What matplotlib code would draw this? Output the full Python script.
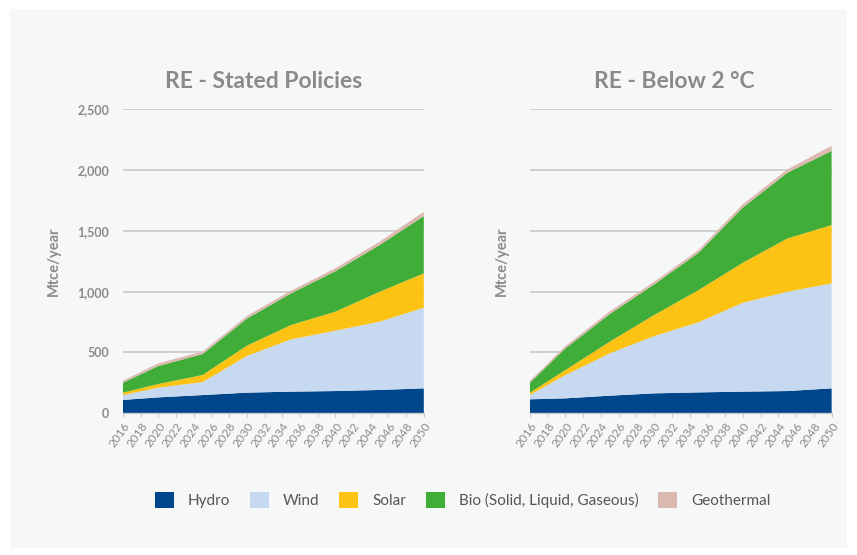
import numpy as np
import matplotlib
matplotlib.use("Agg")
import matplotlib.pyplot as plt
from matplotlib.patches import Patch, Rectangle

# data (Mtce/year)
years = [2016, 2020, 2025, 2030, 2035, 2040, 2045, 2050]
sources = ["Hydro", "Wind", "Solar", "Bio (Solid, Liquid, Gaseous)", "Geothermal"]
colors = ["#00468b", "#c6d9f0", "#fcc314", "#40ad39", "#dcb8b0"]

sp_hydro = [110, 131, 150, 170, 178, 183, 192, 205]
sp_wind = [40, 80, 107, 301, 430, 496, 561, 663]
sp_solar = [20, 30, 58, 85, 118, 156, 246, 282]
sp_bio = [82, 148, 172, 222, 260, 333, 384, 471]
sp_geo = [16, 22, 20, 22, 22, 24, 27, 35]

b2_hydro = [115, 123, 145, 164, 172, 178, 183, 205]
b2_wind = [36, 192, 348, 471, 576, 731, 816, 863]
b2_solar = [19, 41, 96, 173, 265, 329, 438, 479]
b2_bio = [82, 178, 227, 252, 307, 454, 540, 610]
b2_geo = [16, 19, 22, 21, 22, 27, 27, 42]

tick_years = list(range(2016, 2051, 2))
titles = ["RE - Stated Policies", "RE - Below 2 °C"]
title_x = [0.468, 0.478]

plt.rcParams['font.family'] = ['Lato', 'DejaVu Sans']
grey = "#8a8a8a"
bg = "#f6f8f7"

fig = plt.figure(figsize=(8.57, 5.55), dpi=100)
fig.patch.set_facecolor("white")
fig.add_artist(Rectangle((0.012, 0.012), 0.976, 0.972, transform=fig.transFigure,
                         facecolor=bg, edgecolor="none", zorder=-10))

ax1 = fig.add_axes([0.1435, 0.2553, 0.351, 0.548])
ax2 = fig.add_axes([0.6184, 0.2553, 0.352, 0.548])

series = [
    [sp_hydro, sp_wind, sp_solar, sp_bio, sp_geo],
    [b2_hydro, b2_wind, b2_solar, b2_bio, b2_geo],
]

for i, (ax, data, title) in enumerate(zip([ax1, ax2], series, titles)):
    ax.set_facecolor("none")
    ax.stackplot(years, *data, colors=colors, linewidth=0, zorder=3)
    ax.set_xlim(2016, 2050)
    ax.set_ylim(0, 2500)
    ax.set_yticks([0, 500, 1000, 1500, 2000, 2500])
    ax.yaxis.grid(True, color="#c8c8c8", linewidth=1.2, zorder=0)
    ax.set_axisbelow(True)
    for side in ["top", "right", "left"]:
        ax.spines[side].set_visible(False)
    ax.spines["bottom"].set_color("#c8c8c8")
    ax.spines["bottom"].set_linewidth(1.0)
    ax.spines["bottom"].set_zorder(4)
    ax.set_xticks(tick_years)
    ax.set_xticklabels([str(y) for y in tick_years], rotation=55, ha="right",
                       rotation_mode="anchor", fontsize=8.5, color=grey)
    ax.tick_params(axis="x", length=3, color="#c8c8c8", pad=2)
    ax.tick_params(axis="y", length=0, pad=10)
    if i == 0:
        ax.set_yticklabels(["0", "500", "1,000", "1,500", "2,000", "2,500"],
                           fontsize=9, color=grey, fontweight="bold")
    else:
        ax.set_yticklabels([])
    ax.set_ylabel("Mtce/year", fontsize=10.5, color=grey, fontweight="bold",
                  labelpad=(12 if i == 0 else 5))
    ax.set_title(title, fontsize=16.5, color=grey, fontweight="bold", pad=15,
                 x=title_x[i])

handles = [Patch(facecolor=c, edgecolor="none") for c in colors]
fig.legend(handles, sources, loc="center", bbox_to_anchor=(0.54, 0.099), ncol=5,
           frameon=False, fontsize=11, labelcolor="#555555",
           handlelength=1.25, handleheight=1.25, columnspacing=1.3, handletextpad=0.9)

fig.savefig("out.png", dpi=100, facecolor=fig.get_facecolor())
